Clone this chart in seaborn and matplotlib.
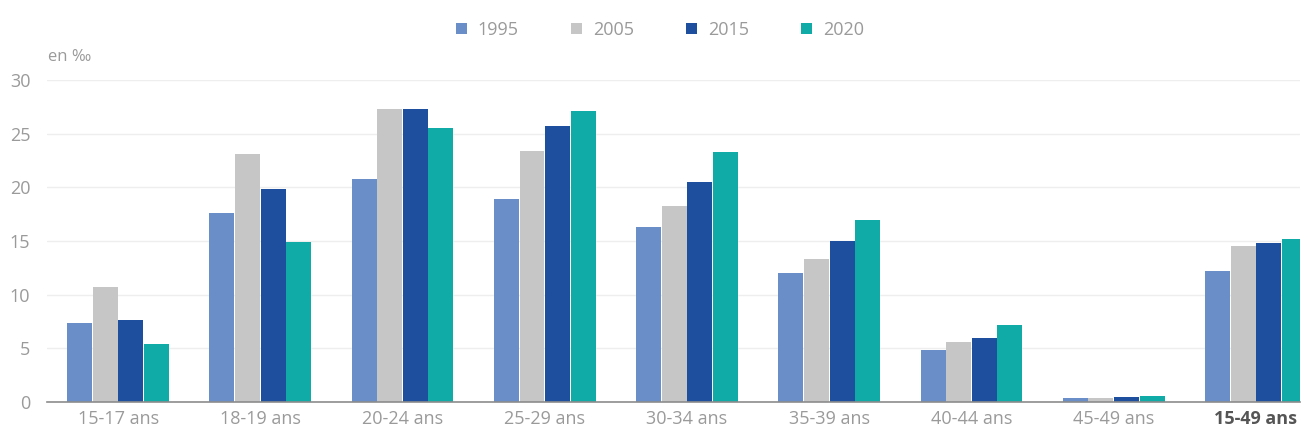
import matplotlib
matplotlib.use("Agg")
import matplotlib.pyplot as plt
import seaborn as sns
import pandas as pd

# Taux de fécondité par groupe d'âges (en ‰)
ages = ["15-17 ans", "18-19 ans", "20-24 ans", "25-29 ans", "30-34 ans",
        "35-39 ans", "40-44 ans", "45-49 ans", "15-49 ans"]
years = ["1995", "2005", "2015", "2020"]
v1995 = [7.4, 17.6, 20.8, 18.9, 16.3, 12.0, 4.8, 0.4, 12.2]
v2005 = [10.7, 23.1, 27.3, 23.4, 18.3, 13.3, 5.6, 0.4, 14.5]
v2015 = [7.6, 19.8, 27.3, 25.7, 20.5, 15.0, 6.0, 0.5, 14.8]
v2020 = [5.4, 14.9, 25.5, 27.1, 23.3, 17.0, 7.2, 0.6, 15.2]
colors = ["#6a8fc8", "#c6c6c6", "#1d4f9e", "#10aba7"]

series = dict(zip(years, [v1995, v2005, v2015, v2020]))
df = pd.DataFrame(
    [(a, y, v) for y in years for a, v in zip(ages, series[y])],
    columns=["age", "annee", "valeur"],
)

sns.set_theme(style="white")
plt.rcParams["font.family"] = ["Open Sans", "DejaVu Sans"]

fig = plt.figure(figsize=(13.08, 4.36), dpi=100)
ax = fig.add_axes([47 / 1308, 1 - 402 / 436, (1300 - 47) / 1308, (402 - 80) / 436])

sns.barplot(data=df, x="age", y="valeur", hue="annee", order=ages,
            hue_order=years, palette=colors, width=0.72, gap=0.025,
            saturation=1, edgecolor="none", ax=ax, legend=True)

ax.set_ylim(0, 30)
ax.set_xlim(-0.5, 8.31)
ax.set_yticks([0, 5, 10, 15, 20, 25, 30])
ax.yaxis.grid(True, color="#eeeeee", linewidth=1)
ax.set_axisbelow(True)
for s in ["top", "right", "left"]:
    ax.spines[s].set_visible(False)
ax.spines["bottom"].set_color("#8c8c8c")
ax.spines["bottom"].set_linewidth(1.2)
ax.set_xlabel("")
ax.set_ylabel("")
ax.tick_params(axis="y", length=0, labelsize=13, labelcolor="#9a9a9a", pad=12)
ax.tick_params(axis="x", length=0, labelsize=13, labelcolor="#9a9a9a", pad=6)
lbls = ax.get_xticklabels()
lbls[-1].set_fontweight("bold")
lbls[-1].set_color("#555555")

ax.text(48 / 1308, 1 - 57 / 436, "en ‰", transform=fig.transFigure,
        fontsize=12, color="#9a9a9a", va="center", ha="left")

handles, labels = ax.get_legend_handles_labels()
ax.legend_.remove()
fig.legend(handles, labels, loc="center", bbox_to_anchor=(660 / 1308, 1 - 30 / 436),
           ncol=4, frameon=False, fontsize=13, labelcolor="#9a9a9a",
           handlelength=0.6, handleheight=0.6, handletextpad=0.6,
           columnspacing=2.9)

fig.savefig("out.png", dpi=100, facecolor="white")
